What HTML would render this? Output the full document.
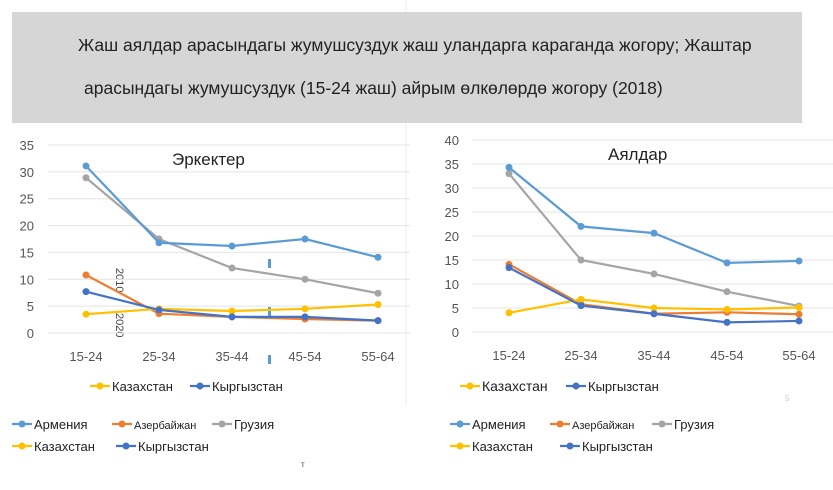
<!DOCTYPE html><html><head><meta charset="utf-8"><style>
body{margin:0;background:#fff;width:833px;height:485px;overflow:hidden;font-family:"Liberation Sans",sans-serif}
</style></head><body>
<svg id="s" width="833" height="485" xmlns="http://www.w3.org/2000/svg" font-family="Liberation Sans, sans-serif">
<line x1="406" y1="0" x2="406" y2="405" stroke="#eee"/>
<rect x="12" y="12" width="790" height="111" fill="#d6d6d6"/>
<text x="78" y="51" font-size="17.5" fill="#222">Жаш аялдар арасындагы жумушсуздук жаш уландарга караганда жогору; Жаштар</text>
<text x="84" y="94" font-size="17.5" fill="#222">арасындагы жумушсуздук (15-24 жаш) айрым өлкөлөрдө жогору (2018)</text>
<text x="172" y="165" font-size="17" fill="#222">Эркектер</text>
<text x="608" y="160" font-size="17" fill="#222">Аялдар</text>
<text transform="translate(116,268) rotate(90)" font-size="11" fill="#444">2010</text>
<text transform="translate(116,313) rotate(90)" font-size="11" fill="#444">2020</text>
<rect x="268" y="259" width="3" height="9" fill="#5b9bd5"/>
<rect x="268" y="307" width="3" height="9" fill="#5b9bd5"/>
<rect x="268" y="355" width="3" height="9" fill="#5b9bd5"/>
<text x="301" y="467" font-size="8" fill="#444">т</text>
<text x="785" y="401" font-size="8" fill="#ccc">5</text>
</svg>
<script>
var s=document.getElementById('s'),NS='http://www.w3.org/2000/svg';
function el(t,a,txt){var e=document.createElementNS(NS,t);for(var k in a)e.setAttribute(k,a[k]);if(txt!=null)e.textContent=txt;s.appendChild(e);return e;}
var C={arm:'#5b9bd5',az:'#ed7d31',ge:'#a5a5a5',kz:'#ffc000',ky:'#4472c4'};
function chart(o){
 for(var v=0;v<=o.max;v+=5){var y=o.y0-v*o.k;el('line',{x1:o.gx1,x2:o.gx2,y1:y,y2:y,stroke:'#e4e4e4'});el('text',{x:o.lx,y:y+5,'font-size':13,fill:'#555','text-anchor':'end'},v);}
 var cats=['15-24','25-34','35-44','45-54','55-64'];
 cats.forEach(function(c,i){el('text',{x:o.xs[i],y:o.y0+28,'font-size':13,fill:'#555','text-anchor':'middle'},c);});
 ['ge','arm','az','kz','ky'].forEach(function(key){var d=o.d[key],p=d.map(function(v,i){return o.xs[i]+','+(o.y0-v*o.k)}).join(' ');
  el('polyline',{points:p,fill:'none',stroke:C[key],'stroke-width':2.2});
  d.forEach(function(v,i){el('circle',{cx:o.xs[i],cy:o.y0-v*o.k,r:3.5,fill:C[key]});});});
}
function leg(x,y,key,t,fs){el('line',{x1:x,x2:x+20,y1:y,y2:y,stroke:C[key],'stroke-width':2.2});el('circle',{cx:x+10,cy:y,r:3.5,fill:C[key]});el('text',{x:x+22,y:y+5,'font-size':fs||13,fill:'#222'},t);}
chart({y0:333,k:188/35,max:35,gx1:48,gx2:410,lx:34,xs:[86,159,232,305,378],d:{arm:[31.1,16.8,16.2,17.5,14.1],az:[10.8,3.6,3.0,2.6,2.3],ge:[28.9,17.5,12.1,10,7.4],kz:[3.5,4.5,4.1,4.5,5.3],ky:[7.7,4.3,3.0,3.0,2.3]}});
chart({y0:332,k:192/40,max:40,gx1:472,gx2:833,lx:459,xs:[509,581,654,727,799],d:{arm:[34.3,22,20.6,14.4,14.8],az:[14.1,5.8,3.8,4.1,3.7],ge:[33,15,12.1,8.4,5.4],kz:[4,6.8,5,4.7,5.1],ky:[13.4,5.5,3.8,2.0,2.3]}});
leg(90,386,'kz','Казахстан',13);leg(190,386,'ky','Кыргызстан',13);
leg(12,424,'arm','Армения');leg(112,424,'az','Азербайжан',11);leg(212,424,'ge','Грузия');
leg(12,446,'kz','Казахстан');leg(116,446,'ky','Кыргызстан');
leg(460,386,'kz','Казахстан',14);leg(566,386,'ky','Кыргызстан',13);
leg(450,424,'arm','Армения');leg(550,424,'az','Азербайжан',11);leg(652,424,'ge','Грузия');
leg(450,446,'kz','Казахстан');leg(560,446,'ky','Кыргызстан');
</script>
</body></html>
